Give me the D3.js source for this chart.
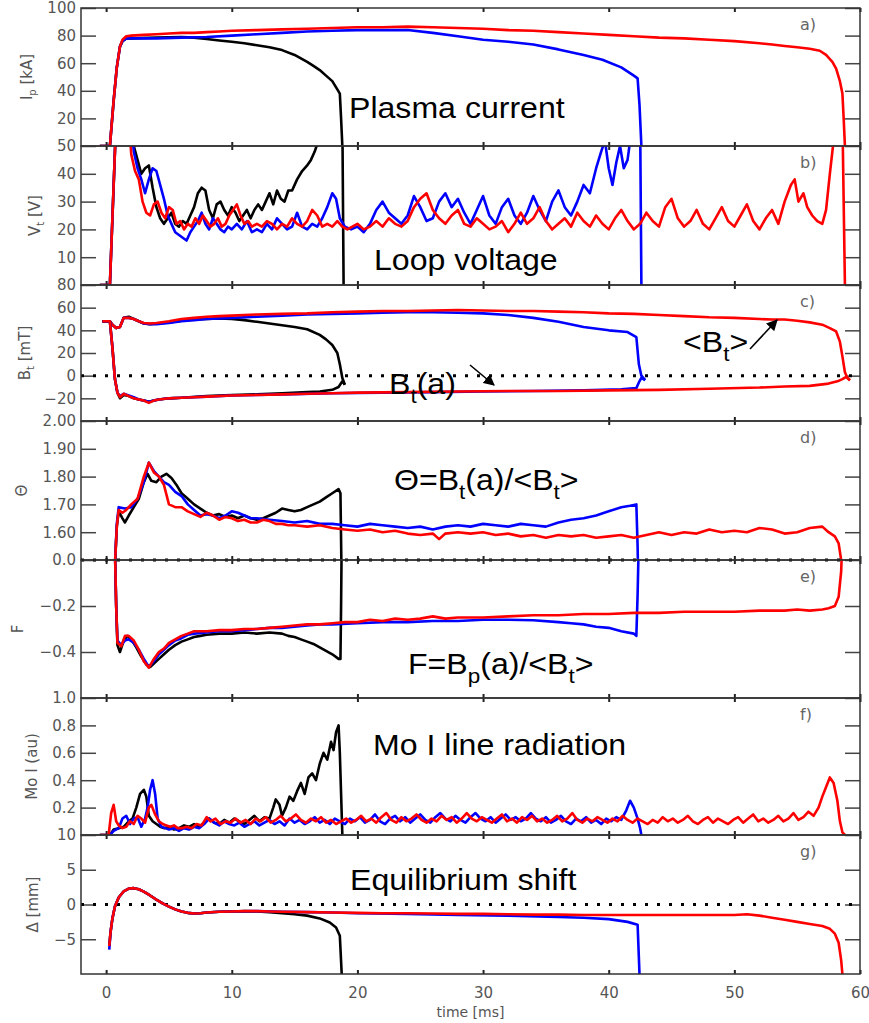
<!DOCTYPE html>
<html lang='en'>
	<head>
		<meta charset='UTF-8'>
		<title>Plasma discharge traces</title>
		<style>
			body { margin: 0; background: #fff; }
		</style>
	</head>
	<body>
		<svg id='chart'></svg>

		<script src='https://d3js.org/d3.v7.min.js'></script>
		<script>
			// ---- data: [time ms, value] ----
			const ipBlack = [[-0.5,0],[0.3,0],[0.6,33],[0.85,57],[1.1,72],[1.3,76],[1.6,78],[2,78],[4,78.5],[6,79],[7,78.5],[8,77.5],[9,76.5],[10,75.5],[11,74.5],[12,73],[13,71.5],[14,69.5],[15,66],[16,61],[16.5,58],[17,55],[17.5,51],[18,47],[18.4,41],[18.6,38],[18.7,20],[18.8,0]];
			const ipBlue = [[-0.5,0],[0.3,0],[0.6,33],[0.85,57],[1.1,72],[1.3,76],[1.6,78],[2,78],[4,78],[6,78.5],[8,79],[10,80],[12,81],[14,82],[16,83],[18,83.5],[20,84],[22,84],[24,84],[26,82],[28,79.5],[30,77],[32,75.5],[34,73.5],[36,70],[38,66],[39.5,62.5],[41,57],[42,51],[42.3,49],[42.45,30],[42.6,0]];
			const ipRed = [[-0.5,0],[0.3,0],[0.6,33],[0.85,57],[1.1,72],[1.3,77],[1.6,79.5],[2,80],[3,80.5],[4,81],[5,81.5],[6,82],[7,82],[8,82.5],[9,83],[10,83.5],[12,84],[14,84.5],[16,85],[18,85.5],[20,86],[22,86],[24,86.5],[26,86],[28,85.5],[30,85],[32,84],[34,83.5],[36,82.5],[38,81.5],[40,80.5],[42,79.5],[44,78.5],[46,78],[48,77],[50,76],[52,74.5],[53,73.5],[54,72.5],[55,71.5],[56,70.5],[56.8,69],[57.3,66],[57.8,61],[58.1,56],[58.4,47],[58.6,38],[58.7,20],[58.8,0]];

			const vtBlack = [[-0.5,0],[0.3,0],[0.8,60],[2,60],[2.2,50],[2.5,45],[2.8,40],[3.1,42],[3.4,43],[3.7,35],[4.0,28],[4.3,24],[4.6,22],[4.9,24],[5.2,26],[5.5,22],[5.8,21],[6.1,23],[6.4,22],[6.7,25],[7.0,28],[7.3,33],[7.6,35],[7.9,34],[8.2,27],[8.5,24],[8.8,29],[9.1,30],[9.4,27],[9.7,25],[10,28],[10.3,26],[10.6,23],[10.9,25],[11.2,27],[11.5,24],[11.8,27],[12.1,29],[12.4,27],[12.7,30],[13,33],[13.3,29],[13.6,34],[13.9,31],[14.2,30],[14.5,34],[14.8,34],[15.2,38],[15.6,41],[16,43],[16.3,45],[16.6,48],[16.9,52],[17.2,60],[18.8,60],[18.9,0]];
			const vtBlue = [[-0.5,0],[0.3,0],[0.8,60],[2,60],[2.2,48],[2.5,42],[2.8,38],[3.1,33],[3.4,38],[3.7,42],[4.0,41],[4.3,36],[4.6,31],[4.9,25],[5.2,22],[5.5,19],[5.8,18],[6.1,17],[6.4,16],[6.7,19],[7.0,21],[7.3,23],[7.6,26],[7.9,22],[8.2,20],[8.5,24],[8.8,22],[9.1,20],[9.4,19],[9.7,21],[10,20],[10.4,22],[10.8,20],[11.2,23],[11.6,19],[12,20],[12.4,19],[12.8,22],[13.2,20],[13.6,24],[14,22],[14.4,20],[14.8,21],[15.2,26],[15.6,21],[16,20],[16.4,22],[16.8,21],[17.2,24],[17.6,28],[18,33],[18.3,31],[18.6,24],[19,21],[19.5,20],[20,21],[20.5,19],[21,22],[21.5,27],[22,30],[22.5,26],[23,24],[23.5,22],[24,25],[24.5,32],[25,28],[25.5,23],[26,24],[26.5,30],[27,33],[27.5,28],[28,31],[28.5,26],[29,22],[29.5,27],[30,32],[30.5,25],[31,22],[31.5,28],[32,31],[32.5,25],[33,22],[33.5,26],[34,32],[34.5,27],[35,23],[35.5,30],[36,34],[36.5,28],[37,25],[37.5,30],[38,36],[38.5,33],[39,42],[39.4,48],[39.7,52],[40,42],[40.3,36],[40.6,44],[40.9,50],[41.2,42],[41.5,45],[41.8,55],[42.1,60],[42.5,60],[42.6,0]];
			const vtRed = [[-0.5,0],[0.3,0],[0.8,60],[1.8,60],[2.0,47],[2.3,41],[2.6,38],[2.9,30],[3.2,26],[3.5,25],[3.8,29],[4.1,30],[4.4,26],[4.7,24],[5.0,28],[5.3,27],[5.6,22],[5.9,23],[6.2,20],[6.5,22],[6.8,21],[7.1,24],[7.4,22],[7.7,25],[8.0,23],[8.3,21],[8.6,22],[8.9,24],[9.2,21],[9.5,22],[9.8,25],[10.1,27],[10.4,29],[10.7,25],[11,22],[11.3,23],[11.6,21],[12,22],[12.4,21],[12.8,23],[13.2,22],[13.6,20],[14,22],[14.4,21],[14.8,24],[15.2,22],[15.6,21],[16,23],[16.4,27],[16.8,25],[17.2,21],[17.6,22],[18,21],[18.4,23],[18.8,21],[19.2,20],[19.6,21],[20,22],[20.5,20],[21,21],[21.5,23],[22,21],[22.5,24],[23,22],[23.5,21],[24,23],[24.5,28],[25,31],[25.5,33],[26,27],[26.5,24],[27,22],[27.5,25],[28,27],[28.5,22],[29,21],[29.5,24],[30,22],[30.5,20],[31,21],[31.5,23],[32,19],[32.5,22],[33,26],[33.5,22],[34,24],[34.5,28],[35,23],[35.5,20],[36,22],[36.5,24],[37,21],[37.5,26],[38,23],[38.5,21],[39,25],[39.5,22],[40,20],[40.5,24],[41,27],[41.5,23],[42,20],[42.5,22],[43,26],[43.5,23],[44,21],[44.5,28],[45,31],[45.5,24],[46,21],[46.5,23],[47,27],[47.5,22],[48,20],[48.5,24],[49,28],[49.5,23],[50,21],[50.5,25],[51,29],[51.5,23],[52,20],[52.5,24],[53,27],[53.5,22],[54,30],[54.5,36],[54.8,38],[55.1,30],[55.5,33],[55.8,28],[56.2,25],[56.6,23],[57,22],[57.3,27],[57.6,40],[57.9,52],[58.3,60],[58.6,60],[58.8,0]];

			const btMeanBlack = [[-0.3,48],[0.3,48],[0.5,45],[0.8,42],[1.1,43],[1.4,51],[1.8,52],[2.2,50],[2.6,48],[3.0,46],[3.5,45.5],[4,46],[5,47],[6,48.5],[7,49.5],[8,50],[9,50.5],[10,50],[11,49],[12,47.5],[13,46],[14,44.5],[15,43],[16,41],[17,36],[17.5,32],[18,27],[18.4,20],[18.6,10],[18.8,-2],[19,-8]];
			const btMeanBlue = [[-0.3,48],[0.3,48],[0.5,45],[0.8,42],[1.1,43],[1.4,51],[1.8,51],[2.2,50],[2.6,48],[3.0,46],[3.5,45.5],[4,45.5],[5,46.5],[6,48],[7,49],[8,50],[9,50.5],[10,51],[12,52],[14,53],[16,54],[18,54.5],[20,55],[22,55.5],[24,56],[26,56],[28,55.5],[30,55],[32,53.5],[34,51],[36,47.5],[38,43],[40,40],[41.5,38.5],[42.2,34],[42.4,10],[42.6,0],[42.9,-4]];
			const btMeanRed = [[-0.3,48],[0.3,48],[0.5,45],[0.8,42],[1.1,43],[1.4,51],[1.8,51],[2.2,50],[2.6,48],[3.0,46.5],[3.5,46],[4,46.5],[5,48],[6,50],[7,51],[8,52],[9,52.5],[10,53],[12,54],[14,54.5],[16,55],[18,56],[20,56.5],[22,57],[24,57],[26,57.5],[28,58],[30,57.5],[32,57],[34,57],[36,56.5],[38,56],[40,55],[42,54.5],[44,53.5],[46,52.5],[48,51.5],[50,51],[52,50],[53,49.5],[54,49.5],[55,48.5],[56,47],[57,45],[57.6,42],[58.1,39],[58.4,30],[58.6,17],[58.8,3],[59.0,-2],[59.2,-4]];
			const btEdgeBlack = [[-0.3,48],[0.3,48],[0.5,25],[0.7,-3],[0.9,-15],[1.1,-20],[1.4,-17],[1.8,-18],[2.2,-20],[2.6,-21],[3.0,-22],[3.4,-23],[3.8,-22],[4.2,-21],[5,-20],[6,-19.5],[8,-18],[10,-17],[12,-16.5],[14,-15.5],[16,-14.5],[17,-14],[18,-12.5],[18.5,-10],[18.8,-5],[19,-8]];
			const btEdgeBlue = [[-0.3,48],[0.3,48],[0.5,25],[0.7,-3],[0.9,-15],[1.1,-18],[1.4,-16],[1.8,-17.5],[2.2,-19],[2.6,-21],[3.0,-22],[3.4,-23],[3.8,-22],[4.2,-21],[5,-20],[6,-19.5],[8,-18.5],[10,-17.5],[14,-16.5],[18,-15.5],[22,-15],[26,-14.5],[30,-14],[34,-13.5],[38,-13],[41,-12],[42.2,-11],[42.4,-6],[42.6,-2],[42.9,-4]];
			const btEdgeRed = [[-0.3,48],[0.3,48],[0.5,25],[0.7,-3],[0.9,-15],[1.1,-19],[1.4,-16],[1.8,-18],[2.2,-20],[2.6,-21],[3.0,-22],[3.4,-24],[3.8,-22],[4.2,-21],[5,-20],[6,-19.5],[7,-19],[8,-18.5],[10,-17.5],[12,-17],[14,-16.5],[16,-16],[18,-15.5],[20,-15],[24,-14.5],[28,-14],[32,-13.5],[36,-13.5],[40,-13],[44,-12.5],[48,-11.5],[52,-10.5],[54,-9.5],[56,-9],[57.5,-7],[58.2,-5],[58.6,-3],[58.9,-1],[59.2,-4]];

			const thetaBlack = [[0.6,1.2],[0.72,1.5],[0.85,1.62],[1.0,1.675],[1.3,1.65],[1.5,1.635],[1.8,1.66],[2.2,1.69],[2.6,1.72],[3.0,1.78],[3.3,1.81],[3.6,1.785],[4.0,1.78],[4.4,1.80],[4.8,1.81],[5.2,1.795],[5.6,1.77],[6.0,1.74],[6.5,1.72],[7.0,1.70],[7.5,1.685],[8.0,1.67],[8.5,1.66],[9.0,1.665],[9.5,1.655],[10,1.66],[10.5,1.65],[11,1.66],[11.5,1.65],[12,1.645],[12.5,1.65],[13,1.66],[13.5,1.67],[14,1.685],[14.5,1.68],[15,1.675],[15.5,1.68],[16,1.69],[16.5,1.70],[17,1.71],[17.5,1.725],[18,1.74],[18.5,1.755],[18.65,1.74],[18.75,1.4]];
			const thetaBlue = [[0.6,1.2],[0.72,1.5],[0.85,1.63],[1.0,1.69],[1.5,1.685],[2.0,1.69],[2.5,1.72],[3.0,1.78],[3.4,1.85],[3.8,1.82],[4.2,1.80],[4.6,1.78],[5.0,1.77],[5.5,1.745],[6.0,1.73],[6.5,1.70],[7.0,1.68],[7.5,1.66],[8.0,1.665],[8.5,1.66],[9.0,1.65],[9.5,1.66],[10,1.675],[10.5,1.67],[11,1.66],[11.5,1.65],[12,1.65],[13,1.645],[14,1.64],[15,1.635],[16,1.64],[17,1.63],[18,1.63],[19,1.625],[20,1.62],[21,1.63],[22,1.625],[23,1.62],[24,1.615],[25,1.62],[26,1.61],[27,1.62],[28,1.625],[29,1.62],[30,1.63],[31,1.625],[32,1.62],[33,1.63],[34,1.625],[35,1.62],[36,1.635],[37,1.645],[38,1.65],[39,1.66],[40,1.675],[41,1.69],[41.7,1.695],[42.2,1.70],[42.3,1.55],[42.4,1.3]];
			const thetaRed = [[0.6,1.2],[0.72,1.5],[0.85,1.62],[1.0,1.68],[1.3,1.67],[1.6,1.68],[2.0,1.70],[2.5,1.72],[3.0,1.80],[3.4,1.85],[3.8,1.815],[4.2,1.80],[4.6,1.77],[5.0,1.70],[5.5,1.69],[6.0,1.69],[6.5,1.675],[7.0,1.665],[7.5,1.655],[8.0,1.67],[8.5,1.66],[9.0,1.645],[9.5,1.655],[10,1.65],[10.5,1.64],[11,1.645],[11.5,1.635],[12,1.635],[12.5,1.645],[13,1.64],[13.5,1.63],[14,1.63],[14.5,1.625],[15,1.625],[16,1.62],[17,1.625],[18,1.615],[19,1.61],[20,1.605],[21,1.61],[22,1.6],[23,1.605],[24,1.595],[25,1.59],[26,1.595],[26.5,1.575],[27,1.595],[28,1.6],[29,1.595],[30,1.6],[31,1.59],[32,1.595],[33,1.585],[34,1.59],[35,1.58],[36,1.59],[37,1.585],[38,1.59],[39,1.58],[40,1.585],[41,1.59],[42,1.58],[43,1.59],[44,1.6],[45,1.59],[46,1.6],[47,1.595],[48,1.61],[49,1.6],[50,1.605],[51,1.6],[52,1.615],[53,1.61],[54,1.595],[55,1.60],[56,1.615],[57,1.62],[57.5,1.6],[58,1.585],[58.3,1.56],[58.5,1.5],[58.6,1.3]];

			const fBlack = [[0.5,0.1],[0.72,0],[0.8,-0.2],[0.9,-0.37],[1.1,-0.40],[1.4,-0.35],[1.7,-0.33],[2.0,-0.345],[2.4,-0.38],[2.8,-0.42],[3.2,-0.455],[3.5,-0.465],[3.8,-0.45],[4.2,-0.43],[4.6,-0.41],[5.0,-0.39],[5.5,-0.37],[6,-0.355],[6.5,-0.345],[7,-0.335],[7.5,-0.33],[8,-0.325],[9,-0.32],[10,-0.32],[11,-0.315],[12,-0.32],[13,-0.315],[14,-0.32],[14.5,-0.33],[15,-0.335],[15.5,-0.345],[16,-0.355],[16.5,-0.365],[17,-0.38],[17.5,-0.395],[18,-0.41],[18.5,-0.43],[18.65,-0.43],[18.7,-0.2],[18.75,0.1]];
			const fBlue = [[0.5,0.1],[0.72,0],[0.8,-0.2],[0.9,-0.35],[1.2,-0.37],[1.5,-0.35],[1.8,-0.345],[2.2,-0.36],[2.6,-0.39],[3.0,-0.43],[3.4,-0.465],[3.8,-0.44],[4.2,-0.41],[4.6,-0.39],[5.0,-0.37],[5.5,-0.35],[6,-0.34],[6.5,-0.325],[7,-0.32],[8,-0.315],[9,-0.31],[10,-0.31],[11,-0.305],[12,-0.3],[13,-0.295],[14,-0.295],[15,-0.29],[16,-0.285],[17,-0.28],[18,-0.28],[20,-0.275],[22,-0.27],[24,-0.27],[26,-0.265],[28,-0.265],[30,-0.26],[32,-0.26],[34,-0.262],[36,-0.27],[37,-0.275],[38,-0.28],[39,-0.29],[40,-0.295],[41,-0.31],[42,-0.32],[42.2,-0.33],[42.3,-0.15],[42.4,0.1]];
			const fRed = [[0.5,0.1],[0.72,0],[0.8,-0.2],[0.9,-0.36],[1.2,-0.375],[1.5,-0.33],[1.8,-0.33],[2.2,-0.35],[2.6,-0.39],[3.0,-0.44],[3.4,-0.468],[3.8,-0.43],[4.2,-0.40],[4.6,-0.385],[5.0,-0.36],[5.5,-0.345],[6.0,-0.33],[6.5,-0.32],[7.0,-0.31],[8,-0.31],[9,-0.305],[10,-0.305],[11,-0.30],[12,-0.30],[13,-0.295],[14,-0.29],[15,-0.285],[16,-0.28],[17,-0.28],[18,-0.275],[19,-0.27],[20,-0.27],[21,-0.26],[22,-0.265],[23,-0.255],[24,-0.26],[25,-0.255],[26,-0.245],[27,-0.255],[28,-0.25],[30,-0.25],[32,-0.245],[34,-0.24],[36,-0.24],[38,-0.235],[40,-0.235],[42,-0.23],[44,-0.23],[46,-0.225],[48,-0.225],[50,-0.225],[52,-0.22],[54,-0.22],[55,-0.215],[56,-0.22],[57,-0.215],[57.5,-0.21],[58,-0.2],[58.3,-0.16],[58.5,-0.05],[58.6,0.1]];

			const moBlack = [[-0.5,0],[0.3,0],[0.6,0.04],[1.0,0.05],[1.4,0.06],[1.8,0.1],[2.1,0.12],[2.4,0.2],[2.7,0.3],[3.0,0.33],[3.2,0.28],[3.4,0.14],[3.7,0.1],[4.0,0.08],[4.3,0.06],[4.6,0.05],[5.0,0.06],[5.4,0.04],[5.8,0.05],[6.2,0.07],[6.6,0.06],[7.0,0.08],[7.4,0.06],[7.8,0.09],[8.2,0.12],[8.6,0.09],[9.0,0.08],[9.4,0.11],[9.8,0.09],[10.2,0.12],[10.6,0.10],[11.0,0.08],[11.4,0.11],[11.8,0.14],[12.2,0.10],[12.6,0.13],[13.0,0.12],[13.3,0.2],[13.5,0.26],[13.8,0.22],[14.0,0.14],[14.3,0.2],[14.6,0.28],[14.9,0.25],[15.2,0.32],[15.5,0.38],[15.8,0.3],[16.1,0.42],[16.4,0.45],[16.7,0.4],[17.0,0.52],[17.3,0.6],[17.6,0.55],[17.9,0.68],[18.1,0.62],[18.3,0.75],[18.5,0.8],[18.6,0.6],[18.7,0.3],[18.8,0]];
			const moBlue = [[-0.5,0],[0.3,0],[0.6,0.03],[1.0,0.05],[1.3,0.12],[1.6,0.14],[1.9,0.08],[2.2,0.12],[2.5,0.13],[2.8,0.06],[3.1,0.12],[3.3,0.2],[3.5,0.33],[3.7,0.4],[3.9,0.3],[4.1,0.12],[4.4,0.06],[4.7,0.05],[5.0,0.04],[5.4,0.05],[5.8,0.03],[6.2,0.05],[6.6,0.04],[7.0,0.06],[7.4,0.05],[7.8,0.08],[8.2,0.12],[8.6,0.09],[9.0,0.07],[9.4,0.10],[9.8,0.08],[10.2,0.07],[10.6,0.09],[11.0,0.06],[11.4,0.08],[11.8,0.10],[12.2,0.07],[12.6,0.09],[13.0,0.11],[13.4,0.08],[13.8,0.10],[14.2,0.07],[14.6,0.12],[15.0,0.09],[15.4,0.11],[15.8,0.08],[16.2,0.10],[16.6,0.13],[17.0,0.09],[17.4,0.11],[17.8,0.08],[18.2,0.12],[18.6,0.10],[19.0,0.08],[19.4,0.12],[19.8,0.10],[20.2,0.13],[20.6,0.09],[21.0,0.11],[21.4,0.15],[21.8,0.10],[22.2,0.08],[22.6,0.12],[23.0,0.14],[23.4,0.10],[23.8,0.13],[24.2,0.09],[24.6,0.12],[25.0,0.15],[25.4,0.11],[25.8,0.09],[26.2,0.13],[26.6,0.16],[27.0,0.12],[27.4,0.10],[27.8,0.14],[28.2,0.11],[28.6,0.09],[29.0,0.13],[29.4,0.16],[29.8,0.12],[30.2,0.10],[30.6,0.13],[31.0,0.09],[31.4,0.12],[31.8,0.15],[32.2,0.11],[32.6,0.13],[33.0,0.10],[33.4,0.12],[33.8,0.16],[34.2,0.12],[34.6,0.10],[35.0,0.13],[35.4,0.09],[35.8,0.11],[36.2,0.14],[36.6,0.10],[37.0,0.08],[37.4,0.12],[37.8,0.10],[38.2,0.13],[38.6,0.09],[39.0,0.11],[39.4,0.08],[39.8,0.12],[40.2,0.10],[40.6,0.13],[41.0,0.11],[41.4,0.18],[41.7,0.25],[42.0,0.2],[42.3,0.12],[42.5,0.05],[42.6,0]];
			const moRed = [[-0.5,0],[0.2,0],[0.4,0.16],[0.6,0.22],[0.8,0.1],[1.0,0.07],[1.3,0.05],[1.6,0.06],[1.9,0.1],[2.2,0.08],[2.5,0.14],[2.8,0.12],[3.1,0.09],[3.4,0.2],[3.6,0.22],[3.9,0.15],[4.2,0.1],[4.5,0.08],[4.8,0.07],[5.1,0.06],[5.4,0.07],[5.7,0.05],[6.0,0.05],[6.4,0.06],[6.8,0.05],[7.2,0.08],[7.6,0.07],[8.0,0.13],[8.3,0.10],[8.7,0.12],[9.1,0.08],[9.5,0.10],[9.9,0.09],[10.3,0.12],[10.7,0.09],[11.1,0.11],[11.5,0.08],[11.9,0.12],[12.3,0.10],[12.7,0.13],[13.1,0.09],[13.5,0.11],[13.9,0.14],[14.3,0.10],[14.7,0.12],[15.1,0.15],[15.5,0.11],[15.9,0.09],[16.3,0.12],[16.7,0.10],[17.1,0.13],[17.5,0.09],[17.9,0.11],[18.3,0.08],[18.7,0.10],[19.1,0.12],[19.5,0.09],[19.9,0.11],[20.3,0.14],[20.7,0.10],[21.1,0.12],[21.5,0.09],[21.9,0.13],[22.3,0.16],[22.7,0.11],[23.1,0.09],[23.5,0.13],[23.9,0.10],[24.3,0.12],[24.7,0.15],[25.1,0.11],[25.5,0.09],[25.9,0.12],[26.3,0.10],[26.7,0.14],[27.1,0.11],[27.5,0.13],[27.9,0.09],[28.3,0.12],[28.7,0.16],[29.1,0.12],[29.5,0.10],[29.9,0.13],[30.3,0.11],[30.7,0.09],[31.1,0.12],[31.5,0.15],[31.9,0.10],[32.3,0.12],[32.7,0.09],[33.1,0.13],[33.5,0.11],[33.9,0.14],[34.3,0.10],[34.7,0.12],[35.1,0.09],[35.5,0.11],[35.9,0.14],[36.3,0.10],[36.7,0.12],[37.1,0.16],[37.5,0.11],[37.9,0.09],[38.3,0.12],[38.7,0.10],[39.1,0.13],[39.5,0.11],[39.9,0.09],[40.3,0.12],[40.7,0.10],[41.1,0.14],[41.5,0.11],[41.9,0.09],[42.3,0.12],[42.7,0.10],[43.1,0.08],[43.5,0.11],[43.9,0.09],[44.3,0.13],[44.7,0.10],[45.1,0.12],[45.5,0.09],[45.9,0.11],[46.3,0.14],[46.7,0.10],[47.1,0.08],[47.5,0.11],[47.9,0.13],[48.3,0.09],[48.7,0.12],[49.1,0.10],[49.5,0.08],[49.9,0.11],[50.3,0.13],[50.7,0.09],[51.1,0.12],[51.5,0.15],[51.9,0.10],[52.3,0.12],[52.7,0.09],[53.1,0.11],[53.5,0.14],[53.9,0.10],[54.3,0.12],[54.7,0.16],[55.1,0.11],[55.5,0.13],[55.9,0.17],[56.3,0.14],[56.7,0.2],[57.0,0.28],[57.3,0.35],[57.6,0.42],[57.9,0.38],[58.2,0.25],[58.4,0.1],[58.6,0.02],[58.8,0]];

			const shiftBlack = [[0.25,-6],[0.35,-4],[0.5,-2],[0.7,-0.3],[1.0,1.0],[1.4,1.9],[1.8,2.3],[2.2,2.35],[2.6,2.2],[3.0,1.85],[3.5,1.3],[4.0,0.7],[4.5,0.15],[5.0,-0.3],[5.5,-0.7],[6.0,-1.0],[6.5,-1.2],[7.0,-1.3],[7.5,-1.25],[8,-1.15],[9,-1.05],[10,-1.0],[11,-0.95],[12,-1.0],[13,-1.1],[14,-1.25],[15,-1.4],[16,-1.6],[17,-2.0],[17.8,-2.6],[18.3,-3.3],[18.6,-4.5],[18.75,-10]];
			const shiftBlue = [[0.25,-6.5],[0.35,-4],[0.5,-2],[0.7,-0.3],[1.0,1.0],[1.4,1.9],[1.8,2.3],[2.2,2.35],[2.6,2.2],[3.0,1.85],[3.5,1.3],[4.0,0.7],[4.5,0.15],[5.0,-0.3],[5.5,-0.7],[6.0,-1.0],[6.5,-1.2],[7.0,-1.3],[7.5,-1.25],[8,-1.15],[9,-1.05],[10,-1.0],[12,-0.95],[14,-1.05],[16,-1.1],[18,-1.15],[20,-1.25],[24,-1.35],[28,-1.5],[32,-1.6],[36,-1.8],[38,-1.9],[40,-2.1],[41.5,-2.5],[42.3,-2.9],[42.45,-10]];
			const shiftRed = [[0.25,-6],[0.35,-4],[0.5,-2],[0.7,-0.3],[1.0,1.0],[1.4,1.9],[1.8,2.3],[2.2,2.35],[2.6,2.2],[3.0,1.85],[3.5,1.3],[4.0,0.7],[4.5,0.15],[5.0,-0.3],[5.5,-0.7],[6.0,-1.0],[6.5,-1.2],[7.0,-1.3],[7.5,-1.25],[8,-1.15],[9,-1.05],[10,-1.0],[11,-0.95],[12,-0.95],[13,-1.0],[14,-1.05],[16,-1.1],[18,-1.15],[20,-1.2],[22,-1.25],[24,-1.25],[26,-1.3],[28,-1.35],[30,-1.35],[32,-1.4],[34,-1.45],[36,-1.45],[38,-1.5],[40,-1.5],[42,-1.5],[44,-1.5],[46,-1.5],[48,-1.5],[50,-1.5],[51,-1.4],[52,-1.6],[53,-1.9],[54,-2.2],[55,-2.5],[56,-2.8],[57,-3.1],[57.6,-3.5],[58,-4.2],[58.3,-5.5],[58.5,-8],[58.6,-10]];

			// tick labels
			const timeTicks = [0, 10, 20, 30, 40, 50, 60];
			const ipTicks = [20, 40, 60, 80, 100];
			const vtTicks = [10, 20, 30, 40, 50];
			const btTicks = [-20, 0, 20, 40, 60, 80];
			const thetaTicks = [1.6, 1.7, 1.8, 1.9, 2.0];
			const fTicks = [-0.4, -0.2, 0.0];
			const moTicks = [0.2, 0.4, 0.6, 0.8, 1.0];
			const shiftTicks = [-5, 0, 5, 10];

			// ---- layout ----
			const width = 869;
			const height = 1023;
			const left = 81;
			const right = 860;
			const colors = ['#000000', '#0000ff', '#ff0000'];
			const grey = '#555';

			const svg = d3.select('#chart').attr('width', width).attr('height', height);

			const x = d3.scaleLinear().domain([-2, 60]).range([left, right]);

			const panels = [
				{ id: 'a', top: 8, bottom: 146, domain: [0, 100], ticks: ipTicks, fmt: d3.format('d'), label: [['I'], ['p', 1], [' [kA]']], labelX: 32, traces: [[ipBlack, ipBlue, ipRed]] },
				{ id: 'b', top: 146, bottom: 285, domain: [0, 50], ticks: vtTicks, fmt: d3.format('d'), label: [['V'], ['t', 1], [' [V]']], labelX: 40, traces: [[vtBlack, vtBlue, vtRed]] },
				{ id: 'c', top: 285, bottom: 421, domain: [-40, 80], ticks: btTicks, fmt: d3.format('d'), label: [['B'], ['t', 1], [' [mT]']], labelX: 30, zero: true, traces: [[btMeanBlack, btMeanBlue, btMeanRed], [btEdgeBlack, btEdgeBlue, btEdgeRed]] },
				{ id: 'd', top: 421, bottom: 560, domain: [1.5, 2.0], ticks: thetaTicks, fmt: d3.format('.2f'), label: [['\u0398']], labelX: 27, traces: [[thetaBlack, thetaBlue, thetaRed]] },
				{ id: 'e', top: 560, bottom: 698, domain: [-0.6, 0], ticks: fTicks, fmt: d3.format('.1f'), label: [['F']], labelX: 23, zero: true, traces: [[fBlack, fBlue, fRed]] },
				{ id: 'f', top: 698, bottom: 835, domain: [0, 1], ticks: moTicks, fmt: d3.format('.1f'), label: [['Mo I (au)']], labelX: 37, traces: [[moBlack, moBlue, moRed]] },
				{ id: 'g', top: 835, bottom: 974, domain: [-10, 10], ticks: shiftTicks, fmt: d3.format('d'), label: [['\u0394 [mm]']], labelX: 38, zero: true, traces: [[shiftBlack, shiftBlue, shiftRed]] }
			];

			const defs = svg.append('defs');

			panels.forEach((p) => {
				const y = d3.scaleLinear().domain(p.domain).range([p.bottom, p.top]);
				const g = svg.append('g').attr('class', 'panel-' + p.id);

				defs.append('clipPath').attr('id', 'clip-' + p.id)
					.append('rect')
					.attr('x', left).attr('y', p.top)
					.attr('width', right - left).attr('height', p.bottom - p.top);

				// left axis with labels, ticks pointing inward
				const yAxis = d3.axisLeft(y).tickValues(p.ticks).tickFormat(p.fmt).tickSize(-15).tickPadding(5);
				const ax = g.append('g').attr('transform', `translate(${left},0)`).call(yAxis);
				ax.select('.domain').remove();
				ax.selectAll('line').attr('stroke', '#444').attr('stroke-width', 1.5);
				ax.selectAll('text').attr('fill', grey).style('font-family', 'DejaVu Sans').style('font-size', '15px');

				const yAxisR = d3.axisRight(y).tickValues(p.ticks).tickFormat('').tickSize(-15);
				const axR = g.append('g').attr('transform', `translate(${right},0)`).call(yAxisR);
				axR.select('.domain').remove();
				axR.selectAll('line').attr('stroke', '#444').attr('stroke-width', 1.5);

				// small time ticks on top and bottom edges
				const tTop = g.append('g').attr('transform', `translate(0,${p.top})`)
					.call(d3.axisTop(x).tickValues(timeTicks).tickFormat('').tickSize(-4).tickSizeOuter(0));
				const tBot = g.append('g').attr('transform', `translate(0,${p.bottom})`)
					.call(d3.axisBottom(x).tickValues(timeTicks).tickFormat('').tickSize(-4).tickSizeOuter(0));
				[tTop, tBot].forEach((t) => {
					t.select('.domain').remove();
					t.selectAll('line').attr('stroke', '#222').attr('stroke-width', 2);
				});

				// dotted zero line
				if (p.zero) {
					g.append('line')
						.attr('x1', left).attr('x2', right)
						.attr('y1', y(0)).attr('y2', y(0))
						.attr('stroke', '#000').attr('stroke-width', 3)
						.attr('stroke-dasharray', '3 9');
				}

				// traces
				const line = d3.line().x((d) => x(d[0])).y((d) => y(d[1]));
				const tg = g.append('g').attr('clip-path', `url(#clip-${p.id})`);
				p.traces.forEach((set) => {
					set.forEach((series, i) => {
						tg.append('path')
							.datum(series)
							.attr('d', line)
							.attr('fill', 'none')
							.attr('stroke', colors[i])
							.attr('stroke-width', 2.6)
							.attr('stroke-linejoin', 'round');
					});
				});

				// frame
				g.append('rect')
					.attr('x', left).attr('y', p.top)
					.attr('width', right - left).attr('height', p.bottom - p.top)
					.attr('fill', 'none').attr('stroke', '#333').attr('stroke-width', 1.5);

				// panel letter
				g.append('text')
					.attr('x', 800).attr('y', p.top + 22)
					.attr('fill', '#666')
					.style('font-family', 'DejaVu Sans').style('font-size', '16px')
					.text(p.id + ')');

				// y label, rotated
				const cy = (p.top + p.bottom) / 2;
				const lab = g.append('text')
					.attr('transform', `translate(${p.labelX},${cy}) rotate(-90)`)
					.attr('text-anchor', 'middle')
					.attr('fill', grey)
					.style('font-family', 'DejaVu Sans').style('font-size', '15px');
				p.label.forEach((seg) => {
					const s = lab.append('tspan').text(seg[0]);
					if (seg[1]) s.attr('dy', 4).style('font-size', '10px');
					else if (lab.selectAll('tspan').size() > 1) s.attr('dy', -4);
				});
			});

			// bottom time labels
			const xAxis = svg.append('g').attr('transform', `translate(0,974)`)
				.call(d3.axisBottom(x).tickValues(timeTicks).tickSize(0).tickPadding(13).tickFormat(d3.format('d')));
			xAxis.select('.domain').remove();
			xAxis.selectAll('text').attr('fill', grey).style('font-family', 'DejaVu Sans').style('font-size', '15px');

			svg.append('text')
				.attr('x', (left + right) / 2).attr('y', 1017)
				.attr('text-anchor', 'middle')
				.attr('fill', grey)
				.style('font-family', 'DejaVu Sans').style('font-size', '14px')
				.text('time [ms]');

			// annotations: [text, subscript flag]
			const notes = [
				{ x: 349, y: 118, parts: [['Plasma current']] },
				{ x: 374, y: 270, parts: [['Loop voltage']] },
				{ x: 389, y: 394, parts: [['B'], ['t', 1], ['(a)']] },
				{ x: 683, y: 352, parts: [['<B'], ['t', 1], ['>']] },
				{ x: 394, y: 490, parts: [['\u0398=B'], ['t', 1], ['(a)/<B'], ['t', 1], ['>']] },
				{ x: 408, y: 674, parts: [['F=B'], ['p', 1], ['(a)/<B'], ['t', 1], ['>']] },
				{ x: 373, y: 755, parts: [['Mo I line radiation']] },
				{ x: 350, y: 890, parts: [['Equilibrium shift']] }
			];

			notes.forEach((n) => {
				// the source lettering is a little wider than Arial
				const t = svg.append('text')
					.attr('transform', `translate(${n.x},${n.y}) scale(1.07,1)`)
					.attr('fill', '#000')
					.style('font-family', 'Liberation Sans, Arial, sans-serif')
					.style('font-size', '30px');
				let down = false;
				n.parts.forEach((seg) => {
					const s = t.append('tspan').text(seg[0]);
					if (seg[1]) { s.attr('dy', 9).style('font-size', '21px'); down = true; }
					else if (down) { s.attr('dy', -9); down = false; }
				});
			});

			// arrows
			defs.append('marker')
				.attr('id', 'head')
				.attr('viewBox', '0 0 10 10')
				.attr('refX', 9).attr('refY', 5)
				.attr('markerWidth', 7).attr('markerHeight', 7)
				.attr('orient', 'auto')
				.append('path').attr('d', 'M0,0 L10,5 L0,10 z').attr('fill', '#000');

			const arrows = [
				{ from: [470, 365], to: [494, 385] },
				{ from: [750, 349], to: [777, 320] }
			];
			svg.selectAll('line.arrow')
				.data(arrows)
				.enter()
				.append('line')
				.attr('class', 'arrow')
				.attr('x1', (a) => a.from[0]).attr('y1', (a) => a.from[1])
				.attr('x2', (a) => a.to[0]).attr('y2', (a) => a.to[1])
				.attr('stroke', '#000').attr('stroke-width', 1.6)
				.attr('marker-end', 'url(#head)');
		</script>
	</body>
</html>
